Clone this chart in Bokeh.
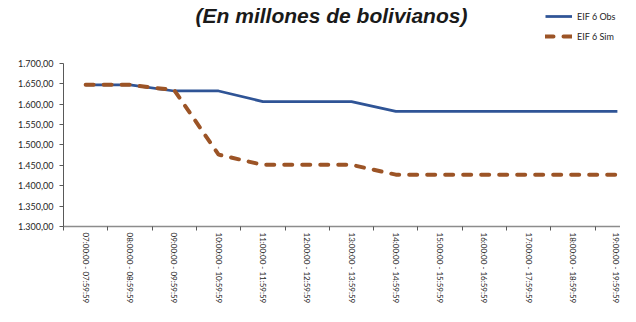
from bokeh.plotting import figure
from bokeh.models import Range1d, FixedTicker, Legend, LegendItem, Label
from bokeh.embed import file_html
from bokeh.resources import INLINE

categories = ["07:00:00 - 07:59:59", "08:00:00 - 08:59:59", "09:00:00 - 09:59:59",
              "10:00:00 - 10:59:59", "11:00:00 - 11:59:59", "12:00:00 - 12:59:59",
              "13:00:00 - 13:59:59", "14:00:00 - 14:59:59", "15:00:00 - 15:59:59",
              "16:00:00 - 16:59:59", "17:00:00 - 17:59:59", "18:00:00 - 18:59:59",
              "19:00:00 - 19:59:59"]
obs = [1647, 1647, 1632, 1632, 1606, 1606, 1606, 1582, 1582, 1582, 1582, 1582, 1582]
sim = [1647, 1647, 1634, 1476, 1451, 1451, 1451, 1427, 1427, 1427, 1427, 1427, 1427]
y_ticks = [1300, 1350, 1400, 1450, 1500, 1550, 1600, 1650, 1700]
y_tick_labels = ["1.300,00", "1.350,00", "1.400,00", "1.450,00", "1.500,00",
                 "1.550,00", "1.600,00", "1.650,00", "1.700,00"]
title_text = "(En millones de bolivianos)"

xs = list(range(len(categories)))

# frame spans the full canvas height above the x axis; the y axis line is bounded to 1300-1700
p = figure(width=620, height=306, output_backend="svg", toolbar_location=None,
           x_range=Range1d(-0.5, 12.07), y_range=Range1d(1300, 1853.7),
           min_border_left=63, min_border_right=0, min_border_top=0, min_border_bottom=10)
p.background_fill_color = "white"
p.border_fill_color = "white"
p.outline_line_color = None
p.xgrid.visible = False
p.ygrid.visible = False

font = "Lato"

# x axis
p.xaxis.ticker = FixedTicker(ticks=xs, minor_ticks=[i - 0.5 for i in range(len(categories) + 1)])
p.xaxis.major_label_overrides = {i: c for i, c in zip(xs, categories)}
p.xaxis.major_label_orientation = "vertical"
p.xaxis.major_tick_out = 0
p.xaxis.major_tick_in = 0
p.xaxis.minor_tick_out = 4
p.xaxis.minor_tick_in = 0
p.xaxis.minor_tick_line_color = "#595959"
p.xaxis.axis_line_color = "#8c8c8c"
p.xaxis.axis_line_width = 1.5
p.xaxis.major_label_standoff = 2
p.xaxis.major_label_text_font = font
p.xaxis.major_label_text_font_size = "8px"
p.xaxis.major_label_text_color = "#262626"

# y axis
p.yaxis.ticker = FixedTicker(ticks=y_ticks, minor_ticks=[])
p.yaxis.bounds = (y_ticks[0], y_ticks[-1])
p.yaxis.major_label_overrides = {t: l for t, l in zip(y_ticks, y_tick_labels)}
p.yaxis.major_tick_out = 4
p.yaxis.major_tick_in = 0
p.yaxis.major_tick_line_color = "#595959"
p.yaxis.axis_line_color = "#595959"
p.yaxis.major_label_standoff = 6
p.yaxis.major_label_text_font = font
p.yaxis.major_label_text_font_size = "9px"
p.yaxis.major_label_text_color = "#262626"

r_obs = p.line(xs, obs, line_color="#2F5496", line_width=2.75)
r_sim = p.line(xs, sim, line_color="#9C5426", line_width=4, line_dash="8 10", line_cap="round")

legend = Legend(items=[LegendItem(label="EIF 6 Obs", renderers=[r_obs]),
                       LegendItem(label="EIF 6 Sim", renderers=[r_sim])],
                location=(482, 184), orientation="vertical")
legend.border_line_color = None
legend.background_fill_alpha = 0
legend.padding = 0
legend.margin = 0
legend.spacing = 8
legend.label_height = 12
legend.glyph_height = 12
legend.glyph_width = 27
legend.label_standoff = 5
legend.label_text_font = font
legend.label_text_font_size = "9px"
legend.label_text_color = "#262626"
p.add_layout(legend, "center")

title = Label(x=268, y=211, x_units="screen", y_units="screen", text=title_text,
              text_align="center", text_baseline="alphabetic",
              text_font="Liberation Sans", text_font_size="21px",
              text_font_style="bold italic", text_color="#1a1a1a")
p.add_layout(title)

open("out.html", "w").write(file_html(p, INLINE))
